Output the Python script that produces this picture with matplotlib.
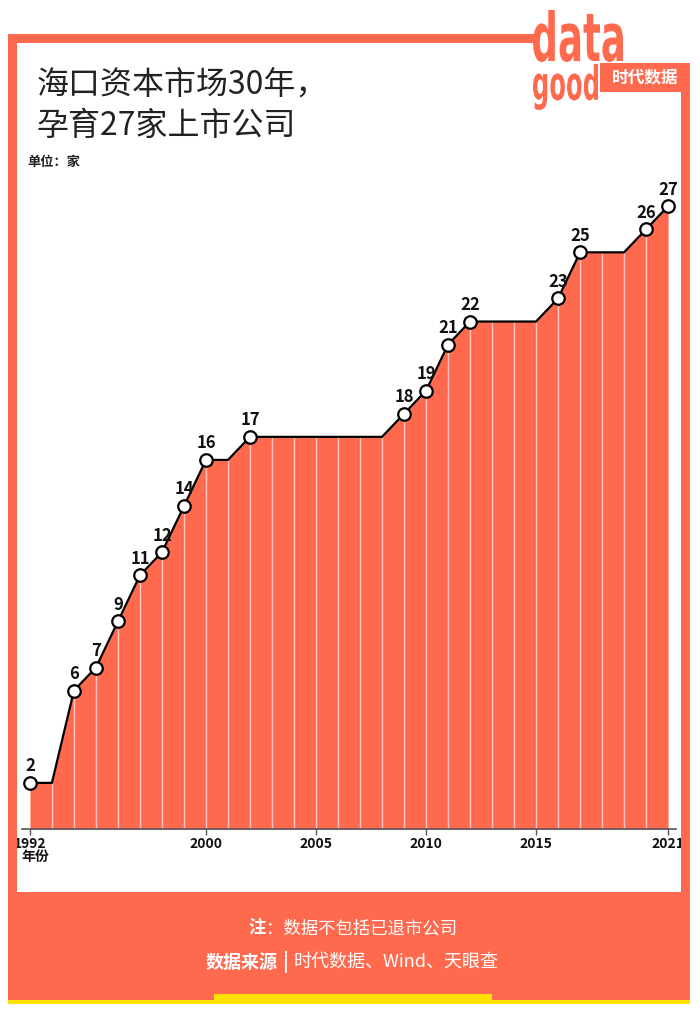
import matplotlib
matplotlib.use("Agg")
import matplotlib.pyplot as plt
from matplotlib.patches import Rectangle, PathPatch
from matplotlib.textpath import TextPath
from matplotlib.font_manager import FontProperties
from matplotlib.transforms import Affine2D

plt.rcParams['font.family'] = ['Noto Sans CJK SC', 'DejaVu Sans']

# ---------------- data ----------------
years = list(range(1992, 2022))
companies = [2, 2, 6, 7, 9, 11, 12, 14, 16, 16, 17,
             17, 17, 17, 17, 17, 17,
             18, 19, 21, 22,
             22, 22, 22,
             23, 25, 25, 25, 26, 27]
tick_years = [1992, 2000, 2005, 2010, 2015, 2021]
title_lines = ["海口资本市场30年，", "孕育27家上市公司"]
unit_label = "单位：家"
x_label = "年份"
note_label = "注"
note_text = "：数据不包括已退市公司"
source_label = "数据来源"
source_text = "时代数据、Wind、天眼查"

ORANGE = "#FF6A4F"
YELLOW = "#FFE100"

W, H = 700, 1013
fig = plt.figure(figsize=(W / 100, H / 100), dpi=100)
fig.patch.set_facecolor("white")


def rect(x0, y0, x1, y1, color, z=0):
    fig.patches.append(Rectangle((x0 / W, 1 - y1 / H), (x1 - x0) / W, (y1 - y0) / H,
                                 transform=fig.transFigure, facecolor=color,
                                 edgecolor="none", zorder=z))


def fy(y):
    return 1 - y / H


def fx(x):
    return x / W


# frame
rect(8, 34, 535, 43, ORANGE)          # top bar
rect(8, 34, 17, 1000, ORANGE)         # left bar
rect(681, 63, 690, 1000, ORANGE)      # right bar
rect(8, 892, 690, 1000, ORANGE)       # bottom block
rect(8, 1000, 690, 1004, YELLOW)      # yellow base
rect(214, 994, 492, 1004, YELLOW)     # raised yellow part

# logo box
rect(600, 63, 690, 92, ORANGE)


def stretched_text(s, x0, y0, x1, y1, color, weight="bold", family="DejaVu Sans"):
    fp = FontProperties(family=family, weight=weight)
    tp = TextPath((0, 0), s, size=100, prop=fp)
    bb = tp.get_extents()
    sx = (x1 - x0) / bb.width
    sy = (y1 - y0) / bb.height
    tr = Affine2D().translate(-bb.x0, -bb.y0).scale(sx / W, sy / H).translate(x0 / W, fy(y1))
    path = tr.transform_path(tp)
    fig.patches.append(PathPatch(path, transform=fig.transFigure, facecolor=color,
                                 edgecolor="none", zorder=3))


stretched_text("data", 533, 10, 623, 62, ORANGE)
stretched_text("good", 533, 64, 598, 110, ORANGE)
fig.text(fx(645), fy(77), "时代数据", color="white", fontsize=12, ha="center", va="center",
         fontweight="bold", zorder=5)

# titles
fig.text(fx(37), fy(86), title_lines[0], fontsize=23, color="#222222", va="center", ha="left")
fig.text(fx(37), fy(126), title_lines[1], fontsize=23, color="#222222", va="center", ha="left")
fig.text(fx(27), fy(162), unit_label, fontsize=9.5, fontweight="bold", color="#222222",
         va="center", ha="left")

# ---------------- chart ----------------
ax_left, ax_right = 22, 676
ax_bottom, ax_top = 829, 137
ax = fig.add_axes([fx(ax_left), fy(ax_bottom), (ax_right - ax_left) / W, (ax_bottom - ax_top) / H])
ax.set_facecolor("none")
ax.set_xlim(1991.64, 2021.36)
ax.set_ylim(0, 30)

ax.fill_between(years, companies, 0, color=ORANGE, linewidth=0, zorder=1)
ax.vlines(years[1:-1], 0, companies[1:-1], color="white", linewidth=1.0, alpha=0.65, zorder=2)
ax.plot(years, companies, color="black", linewidth=1.6, zorder=3)

prev = None
for yr, v in zip(years, companies):
    if v != prev:
        ax.plot(yr, v, marker="o", markersize=9, markerfacecolor="white",
                markeredgecolor="black", markeredgewidth=1.6, zorder=4, clip_on=False)
        ax.annotate(str(v), (yr, v), xytext=(0, 5.5), textcoords="offset points",
                    ha="center", va="bottom", fontsize=12, fontweight="bold",
                    color="#111111", zorder=5)
    prev = v

for s in ["top", "right", "left"]:
    ax.spines[s].set_visible(False)
ax.spines["bottom"].set_color("#555555")
ax.spines["bottom"].set_linewidth(1.2)
ax.set_yticks([])
ax.set_xticks(tick_years)
ax.set_xticklabels([str(t) for t in tick_years], fontsize=10, fontweight="bold", color="#111111")
ax.tick_params(axis="x", length=4, width=1, color="#555555", pad=1.5)

fig.text(fx(21), fy(857), x_label, fontsize=10, fontweight="bold", color="#111111",
         ha="left", va="center")

# ---------------- footer ----------------
fig.text(fx(266), fy(928), note_label, fontsize=12.5, fontweight="bold", color="white",
         ha="right", va="center")
fig.text(fx(266), fy(928), note_text, fontsize=12.5, color="white", ha="left", va="center")
fig.text(fx(278), fy(962), source_label, fontsize=13, fontweight="bold", color="white",
         ha="right", va="center")
fig.text(fx(286), fy(962), "|", fontsize=14, fontweight="bold", color="white",
         ha="center", va="center")
fig.text(fx(294), fy(962), source_text, fontsize=13, color="white", ha="left", va="center")

fig.savefig("out.png", dpi=100)
